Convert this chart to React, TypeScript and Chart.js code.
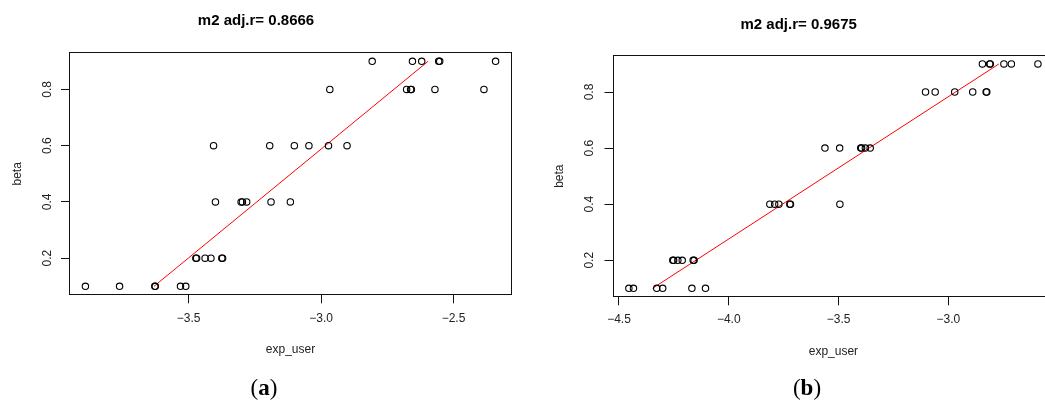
import { useEffect, useRef } from "react";
import { Chart, registerables } from "chart.js";

Chart.register(...registerables);

// ---- data: panel (a) ----
const titleA = "m2 adj.r= 0.8666";
const expUserA = [
  -2.807, -2.655, -2.62, -2.556, -2.552, -2.341,
  -2.967, -2.677, -2.662, -2.659, -2.57, -2.385,
  -3.406, -3.194, -3.101, -3.046, -2.972, -2.902,
  -3.399, -3.302, -3.297, -3.281, -3.189, -3.116,
  -3.473, -3.47, -3.438, -3.416, -3.375, -3.372,
  -3.89, -3.761, -3.628, -3.626, -3.531, -3.511,
];
const betaA = [
  0.9, 0.9, 0.9, 0.9, 0.9, 0.9,
  0.8, 0.8, 0.8, 0.8, 0.8, 0.8,
  0.6, 0.6, 0.6, 0.6, 0.6, 0.6,
  0.4, 0.4, 0.4, 0.4, 0.4, 0.4,
  0.2, 0.2, 0.2, 0.2, 0.2, 0.2,
  0.1, 0.1, 0.1, 0.1, 0.1, 0.1,
];
const fitExpA = [-3.631, -2.596];
const fitBetaA = [0.1, 0.9];
const xTicksA = [-3.5, -3.0, -2.5];

// ---- data: panel (b) ----
const titleB = "m2 adj.r= 0.9675";
const expUserB = [
  -2.845, -2.812, -2.809, -2.747, -2.713, -2.592,
  -3.104, -3.06, -2.971, -2.889, -2.828, -2.825,
  -3.562, -3.495, -3.399, -3.395, -3.378, -3.356,
  -3.813, -3.791, -3.772, -3.722, -3.719, -3.494,
  -4.255, -4.251, -4.232, -4.212, -4.162, -4.158,
  -4.455, -4.434, -4.328, -4.301, -4.168, -4.106,
];
const betaB = [
  0.9, 0.9, 0.9, 0.9, 0.9, 0.9,
  0.8, 0.8, 0.8, 0.8, 0.8, 0.8,
  0.6, 0.6, 0.6, 0.6, 0.6, 0.6,
  0.4, 0.4, 0.4, 0.4, 0.4, 0.4,
  0.2, 0.2, 0.2, 0.2, 0.2, 0.2,
  0.1, 0.1, 0.1, 0.1, 0.1, 0.1,
];
const fitExpB = [-4.347, -2.77];
const fitBetaB = [0.1, 0.9];
const xTicksB = [-4.5, -4.0, -3.5, -3.0];

const yTicks = [0.2, 0.4, 0.6, 0.8];
const xLabel = "exp_user";
const yLabel = "beta";

const SANS = '"Liberation Sans", Arial, Helvetica, sans-serif';
const SERIF = '"Liberation Serif", "DejaVu Serif", serif';

// R-style axis range: data extent widened by 4% on each side
function paddedRange(vals: number[]): [number, number] {
  const lo = Math.min(...vals);
  const hi = Math.max(...vals);
  const d = (hi - lo) * 0.04;
  return [lo - d, hi + d];
}

const fmtTick = (v: number) => (v < 0 ? "\u2212" : "") + Math.abs(v).toFixed(1);

// frame around the plotting region
const plotBox = {
  id: "plotBox",
  beforeDatasetsDraw(chart: any) {
    const { ctx, chartArea: a } = chart;
    const l = Math.round(a.left) + 0.5;
    const t = Math.round(a.top) + 0.5;
    const r = Math.round(a.right) - 0.5;
    const b = Math.round(a.bottom) - 0.5;
    ctx.save();
    ctx.strokeStyle = "#111";
    ctx.lineWidth = 1;
    ctx.strokeRect(l, t, r - l, b - t);
    ctx.restore();
  },
};

type Geometry = {
  left: number;
  width: number;
  yAxisWidth: number;
  padRight: number;
  titleTop: number;
  titleBottom: number;
  xAxisHeight: number;
  xTickPad: number;
  xTitlePad: number;
  yTickPad: number;
  yTitlePad: number;
};

type PanelProps = {
  title: string;
  xs: number[];
  ys: number[];
  fitX: number[];
  fitY: number[];
  xTicks: number[];
  geo: Geometry;
};

function ScatterPanel({ title, xs, ys, fitX, fitY, xTicks, geo }: PanelProps) {
  const ref = useRef<HTMLCanvasElement | null>(null);

  useEffect(() => {
    if (!ref.current) return;
    const [xMin, xMax] = paddedRange(xs);
    const [yMin, yMax] = paddedRange(ys);
    const points = xs.map((x, i) => ({ x, y: ys[i] }));
    const fit = fitX.map((x, i) => ({ x, y: fitY[i] }));

    const chart = new Chart(ref.current, {
      type: "scatter",
      data: {
        datasets: [
          {
            data: points,
            pointStyle: "circle",
            pointRadius: 3.2,
            pointHoverRadius: 3.2,
            pointBorderWidth: 1.1,
            pointBorderColor: "#000",
            pointBackgroundColor: "rgba(0,0,0,0)",
            borderColor: "#000",
            backgroundColor: "rgba(0,0,0,0)",
          },
          {
            data: fit,
            showLine: true,
            borderColor: "#ff0000",
            borderWidth: 1,
            pointRadius: 0,
            pointHoverRadius: 0,
            fill: false,
            tension: 0,
          },
        ],
      },
      options: {
        responsive: false,
        animation: false,
        devicePixelRatio: 1,
        events: [],
        layout: { padding: { left: 0, right: geo.padRight, top: 0, bottom: 0 } },
        plugins: {
          legend: { display: false },
          tooltip: { enabled: false },
          title: {
            display: true,
            text: title,
            color: "#000",
            font: { family: SANS, size: 15, weight: "bold", lineHeight: 1.2 },
            padding: { top: geo.titleTop, bottom: geo.titleBottom },
          },
        },
        scales: {
          x: {
            type: "linear",
            min: xMin,
            max: xMax,
            afterBuildTicks: (s: any) => {
              s.ticks = xTicks.map((v) => ({ value: v }));
            },
            afterFit: (s: any) => {
              s.height = geo.xAxisHeight;
            },
            grid: { drawOnChartArea: false, drawTicks: true, tickLength: 8, color: "#111", lineWidth: 1 },
            border: { display: false },
            ticks: {
              autoSkip: false,
              maxRotation: 0,
              padding: geo.xTickPad,
              color: "#222",
              font: { family: SANS, size: 12 },
              callback: (v: any) => fmtTick(Number(v)),
            },
            title: {
              display: true,
              text: xLabel,
              color: "#222",
              font: { family: SANS, size: 12, lineHeight: 1.2 },
              padding: { top: 0, bottom: geo.xTitlePad },
            },
          },
          y: {
            type: "linear",
            min: yMin,
            max: yMax,
            afterBuildTicks: (s: any) => {
              s.ticks = yTicks.map((v) => ({ value: v }));
            },
            afterFit: (s: any) => {
              s.width = geo.yAxisWidth;
            },
            grid: { drawOnChartArea: false, drawTicks: true, tickLength: 8, color: "#111", lineWidth: 1 },
            border: { display: false },
            ticks: {
              autoSkip: false,
              minRotation: 90,
              maxRotation: 90,
              crossAlign: "center",
              padding: geo.yTickPad,
              color: "#222",
              font: { family: SANS, size: 12 },
              callback: (v: any) => Number(v).toFixed(1),
            },
            title: {
              display: true,
              text: yLabel,
              color: "#222",
              font: { family: SANS, size: 12, lineHeight: 1.2 },
              padding: { top: geo.yTitlePad, bottom: 0 },
            },
          },
        },
      } as any,
      plugins: [plotBox],
    });
    return () => chart.destroy();
  }, []);

  return (
    <canvas
      ref={ref}
      width={geo.width}
      height={401}
      style={{ position: "absolute", left: geo.left, top: 0, width: geo.width, height: 401 }}
    />
  );
}

const geoA: Geometry = {
  left: 0,
  width: 581,
  yAxisWidth: 69,
  padRight: 69,
  titleTop: 12.2,
  titleBottom: 22.1,
  xAxisHeight: 105.7,
  xTickPad: 8,
  xTitlePad: 44.6,
  yTickPad: 4.7,
  yTitlePad: 10.8,
};

const geoB: Geometry = {
  left: 543,
  width: 578,
  yAxisWidth: 69.5,
  padRight: 66.7,
  titleTop: 15.5,
  titleBottom: 21.5,
  xAxisHeight: 103.7,
  xTickPad: 6.7,
  xTitlePad: 42,
  yTickPad: 6.1,
  yTitlePad: 9.8,
};

function Caption({ center, letter }: { center: number; letter: string }) {
  return (
    <div
      style={{
        position: "absolute",
        left: center - 40,
        top: 376,
        width: 80,
        textAlign: "center",
        fontFamily: SERIF,
        fontSize: 23,
        lineHeight: "23px",
        color: "#000",
      }}
    >
      (<b>{letter}</b>)
    </div>
  );
}

export default function App() {
  return (
    <div
      style={{
        position: "fixed",
        left: 0,
        top: 0,
        width: 1045,
        height: 401,
        overflow: "hidden",
        background: "#fff",
      }}
    >
      <ScatterPanel title={titleA} xs={expUserA} ys={betaA} fitX={fitExpA} fitY={fitBetaA} xTicks={xTicksA} geo={geoA} />
      <ScatterPanel title={titleB} xs={expUserB} ys={betaB} fitX={fitExpB} fitY={fitBetaB} xTicks={xTicksB} geo={geoB} />
      <Caption center={264} letter="a" />
      <Caption center={807} letter="b" />
    </div>
  );
}
